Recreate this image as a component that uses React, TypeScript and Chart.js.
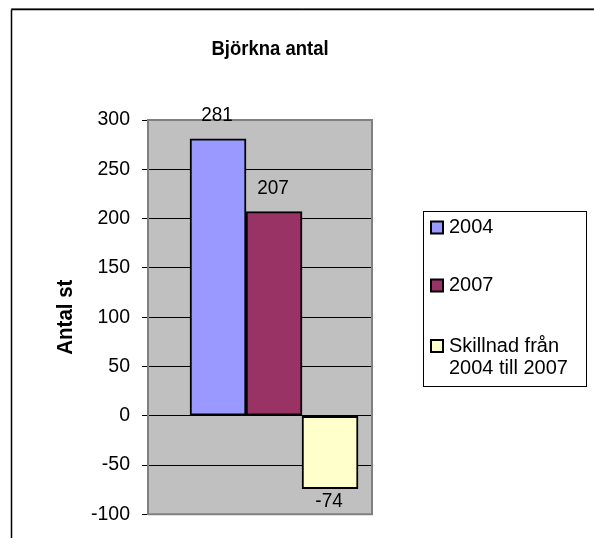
import React, { useEffect, useRef } from "react";
import { Chart, registerables } from "chart.js";

Chart.register(...registerables);

const chartTitle = "Björkna antal";
const yAxisTitle = "Antal st";
const seriesNames = ["2004", "2007", ["Skillnad från", "2004 till 2007"]];
const seriesValues = [281, 207, -74];
const seriesColors = ["#9999FF", "#993366", "#FFFFCC"];
const yMin = -100;
const yMax = 300;
const yStep = 50;

const FONT = "'Liberation Sans', Arial, sans-serif";

function stretchedText(ctx: any, text: string, x: number, y: number, sy: number) {
  ctx.save();
  ctx.translate(x, y);
  ctx.scale(1, sy);
  ctx.fillText(text, 0, 0);
  ctx.restore();
}

const decorPlugin = {
  id: "decor",
  beforeDraw(chart: any) {
    const { ctx, chartArea } = chart;
    ctx.save();
    ctx.fillStyle = "#FFFFFF";
    ctx.fillRect(0, 0, chart.width, chart.height);
    // outer frame
    ctx.strokeStyle = "#8a8a8a";
    ctx.lineWidth = 1;
    ctx.beginPath();
    ctx.moveTo(11, 8.5);
    ctx.lineTo(chart.width, 8.5);
    ctx.stroke();
    ctx.strokeStyle = "#000000";
    ctx.lineWidth = 1.5;
    ctx.beginPath();
    ctx.moveTo(11.5, 9.5);
    ctx.lineTo(chart.width, 9.5);
    ctx.moveTo(11.5, 9.5);
    ctx.lineTo(11.5, chart.height);
    ctx.stroke();
    // plot area background
    ctx.fillStyle = "#C0C0C0";
    ctx.fillRect(chartArea.left, chartArea.top, chartArea.right - chartArea.left, chartArea.bottom - chartArea.top);
    ctx.restore();
  },
  afterDraw(chart: any) {
    const { ctx, chartArea } = chart;
    ctx.save();
    // plot border top/right/bottom
    ctx.strokeStyle = "#808080";
    ctx.lineWidth = 2;
    ctx.beginPath();
    ctx.moveTo(chartArea.left, chartArea.top);
    ctx.lineTo(chartArea.right, chartArea.top);
    ctx.lineTo(chartArea.right, chartArea.bottom);
    ctx.lineTo(chartArea.left, chartArea.bottom);
    ctx.stroke();

    // title
    ctx.fillStyle = "#000";
    ctx.font = `bold 18.5px ${FONT}`;
    ctx.textAlign = "center";
    ctx.textBaseline = "middle";
    stretchedText(ctx, chartTitle, 270, 50, 1.07);

    // y-axis title
    ctx.save();
    ctx.translate(66, (chartArea.top + chartArea.bottom) / 2);
    ctx.rotate(-Math.PI / 2);
    ctx.font = `bold 20.5px ${FONT}`;
    ctx.scale(1, 1.05);
    ctx.fillText(yAxisTitle, 0, 0);
    ctx.restore();

    // data labels
    ctx.font = `19px ${FONT}`;
    ctx.textAlign = "center";
    ctx.textBaseline = "middle";
    chart.data.datasets.forEach((ds: any, i: number) => {
      const meta = chart.getDatasetMeta(i);
      const el: any = meta.data[0];
      const v = ds.data[0].y;
      const y = v >= 0 ? el.y - 23 : el.y + 13;
      stretchedText(ctx, String(v), el.x - 1, y, 1.05);
    });

    // legend
    const lx = 423, ly = 211, lw = 163, lh = 175;
    ctx.strokeStyle = "#000";
    ctx.lineWidth = 1;
    ctx.strokeRect(lx + 0.5, ly + 0.5, lw, lh);
    const rows = [227.5, 285.5, 346];
    ctx.font = `20px ${FONT}`;
    ctx.textAlign = "left";
    chart.data.datasets.forEach((ds: any, i: number) => {
      const cy = rows[i];
      ctx.fillStyle = ds.backgroundColor;
      ctx.fillRect(431, cy - 6, 12, 12);
      ctx.strokeStyle = "#000";
      ctx.lineWidth = 2;
      ctx.strokeRect(431, cy - 6, 12, 12);
      ctx.fillStyle = "#000";
      const name = seriesNames[i];
      const lines = Array.isArray(name) ? name : [name];
      lines.forEach((t: string, k: number) => stretchedText(ctx, t, 449, cy + k * 22.5, 1.05));
    });
    ctx.restore();
  },
};

export default function App() {
  const ref = useRef<HTMLCanvasElement | null>(null);
  useEffect(() => {
    if (!ref.current) return;
    const chart = new Chart(ref.current, {
      type: "bar",
      data: {
        datasets: seriesValues.map((v, i) => ({
          label: Array.isArray(seriesNames[i]) ? (seriesNames[i] as string[]).join(" ") : (seriesNames[i] as string),
          data: [{ x: 0, y: v }],
          backgroundColor: seriesColors[i],
          borderColor: "#000000",
          borderWidth: 2,
          borderSkipped: false,
          barThickness: 56,
        })),
      },
      options: {
        responsive: false,
        animation: false,
        devicePixelRatio: 1,
        layout: { padding: { left: 0, right: 222, top: 120, bottom: 23 } },
        plugins: { legend: { display: false }, title: { display: false }, tooltip: { enabled: false } },
        scales: {
          x: { type: "linear", min: -0.594, max: 0.406, display: false },
          y: {
            min: yMin,
            max: yMax,
            ticks: { stepSize: yStep, color: "#000", font: { family: FONT, size: 19.5 }, padding: 12 },
            grid: { color: "#000", lineWidth: 1, tickLength: 6, tickColor: "#000" },
            border: { display: true, color: "#808080", width: 2 },
            afterFit: (scale: any) => {
              scale.width = 148;
            },
          },
        },
      },
      plugins: [decorPlugin],
    } as any);
    return () => chart.destroy();
  }, []);
  return (
    <div style={{ position: "absolute", left: 0, top: 0, width: 594, height: 538 }}>
      <canvas ref={ref} width={594} height={538} />
    </div>
  );
}
